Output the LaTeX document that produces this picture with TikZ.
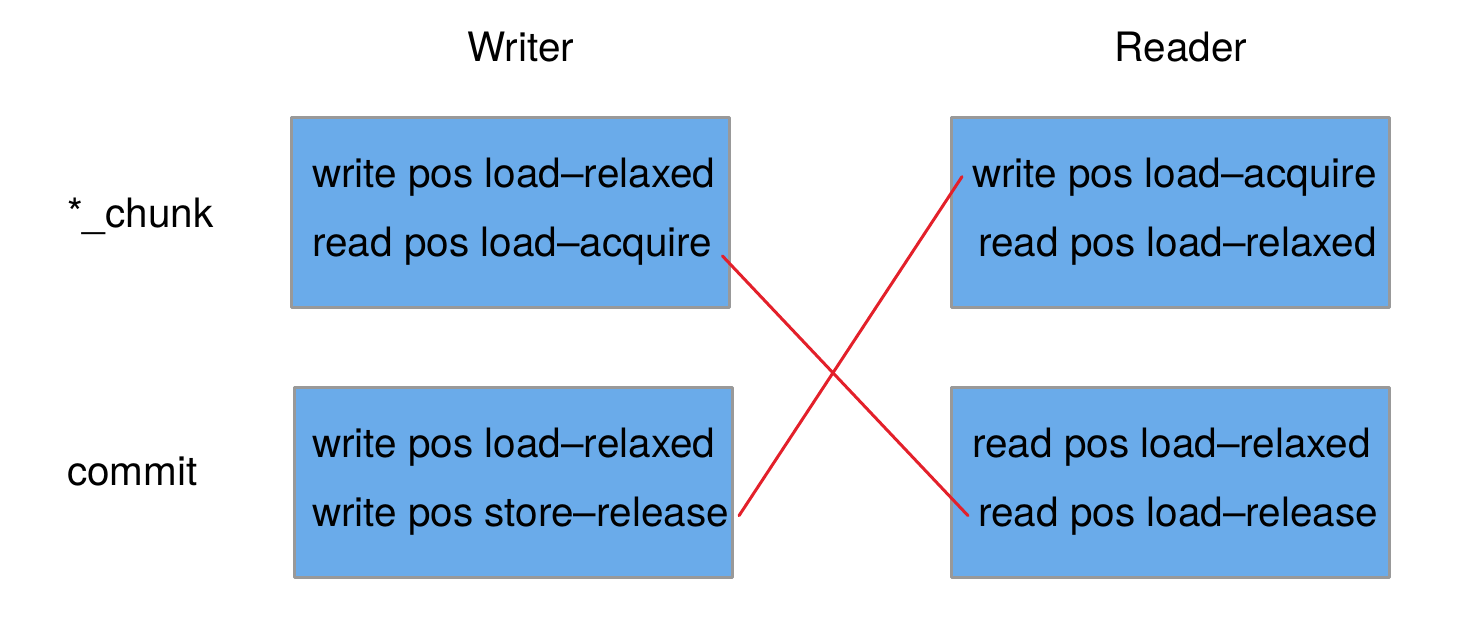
\documentclass[tikz,border=0pt]{standalone}
\usepackage{fontspec}
\setmainfont{TeX Gyre Heros}
\definecolor{boxblue}{HTML}{6AABEA}
\definecolor{boxgray}{HTML}{999999}
\definecolor{linered}{HTML}{E3202A}
\begin{document}
\begin{tikzpicture}[x=1pt, y=-1pt, line cap=round, line join=round, font=\fontsize{40.5}{48}\selectfont]
	\tikzset{box style/.style={draw=boxgray, fill=boxblue, line width=3pt, minimum width=438pt, minimum height=190pt, inner sep=0pt},
		line style/.style={anchor=base west, inner sep=10pt},
		red line/.style={draw=linered, line width=3pt}}
	\useasboundingbox (0,0) rectangle (1470,642);
	% headings
	\node[anchor=base] (writer) at (521,62) {Writer};
	\node[anchor=base] (reader) at (1181,62) {Reader};
	\node[anchor=base west, inner sep=0pt] (chunk) at (67,227) {*\_chunk};
	\node[anchor=base west, inner sep=0pt] (commit) at (67,485) {commit};
	% boxes
	\node[box style] (wchunk) at (510,212) {};
	\node[box style] (wcommit) at (513.5,482) {};
	\node[box style] (rchunk) at (1170.5,212) {};
	\node[box style] (rcommit) at (1170.5,482) {};
	% lines of text
	\node[line style] (wchunk1) at (302,187) {write pos load--relaxed};
	\node[line style] (wchunk2) at (302,256) {read pos load--acquire};
	\node[line style] (wcommit1) at (302,457) {write pos load--relaxed};
	\node[line style] (wcommit2) at (302,526) {write pos store--release};
	\node[line style] (rchunk1) at (962,187) {write pos load--acquire};
	\node[line style] (rchunk2) at (968,256) {read pos load--relaxed};
	\node[line style] (rcommit1) at (962,457) {read pos load--relaxed};
	\node[line style] (rcommit2) at (968,526) {read pos load--release};
	% crossing lines
	\draw[red line] (wchunk2.base east) -- (rcommit2.west);
	\draw[red line] (wcommit2.east) -- (rchunk1.west);
\end{tikzpicture}
\end{document}
